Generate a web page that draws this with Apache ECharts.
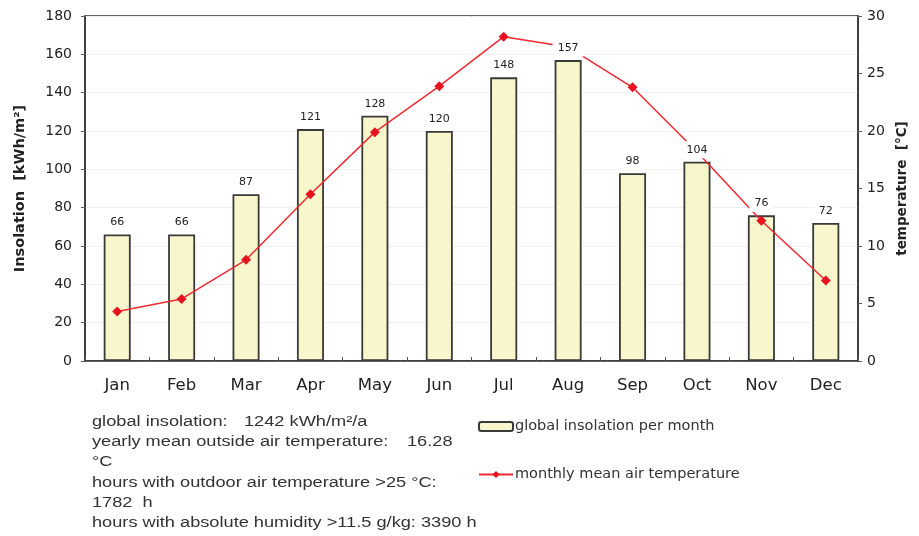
<!DOCTYPE html>
<html><head><meta charset="utf-8">
<script src="https://cdn.jsdelivr.net/npm/echarts@6/dist/echarts.min.js"></script>
<style>html,body{margin:0;padding:0;background:#fff}#c{width:919px;height:536px}</style>
</head><body><div id="c"></div>
<script>
const months = ['Jan','Feb','Mar','Apr','May','Jun','Jul','Aug','Sep','Oct','Nov','Dec'];
const insolation = [66, 66, 87, 121, 128, 120, 148, 157, 98, 104, 76, 72];
const temperature = [4.3, 5.4, 8.8, 14.5, 19.9, 23.9, 28.2, 27.3, 23.8, 18.2, 12.2, 7.0];
const leftTicks = [0, 180, 20];
const rightTicks = [0, 30, 5];
const infoLines = [
  ['global insolation:', '1242 kWh/m²/a'],
  ['yearly mean outside air temperature:', '16.28'],
  ['°C', ''],
  ['hours with outdoor air temperature >25 °C:', ''],
  ['1782  h', ''],
  ['hours with absolute humidity >11.5 g/kg: 3390 h', '']
];
const FONT = '"Liberation Sans", Arial, sans-serif';
const WIDE = '"DejaVu Sans", sans-serif';
const valueX = [244, 407];
const graphics = [];
infoLines.forEach((pair, i) => {
  graphics.push({type: 'text', left: 92, top: 415 + i * 20.3, scaleX: 1.3,
    style: {text: pair[0], font: '14px ' + FONT, fill: '#333'}});
  if (pair[1]) graphics.push({type: 'text', left: valueX[i], top: 415 + i * 20.3, scaleX: 1.3,
    style: {text: pair[1], font: '14px ' + FONT, fill: '#333'}});
});
const chart = echarts.init(document.getElementById('c'));
chart.setOption({
  animation: false,
  backgroundColor: '#fff',
  textStyle: {fontFamily: FONT},
  grid: {left: 85, right: 61, top: 16, bottom: 175, show: true, borderColor: '#333', borderWidth: 1.5,
    containLabel: false, outerBoundsMode: 'none'},
  legend: {
    orient: 'vertical', left: 473, top: 414, itemGap: 33, itemWidth: 34, itemHeight: 9,
    data: ['global insolation per month', 'monthly mean air temperature'],
    textStyle: {fontFamily: WIDE, fontSize: 14.5, color: '#333', padding: [0,0,0,-3]},
    selectedMode: false
  },
  xAxis: {
    type: 'category', data: months, boundaryGap: true,
    axisLine: {lineStyle: {color: '#333', width: 1.5}},
    axisTick: {show: true, inside: true, length: 4, lineStyle: {color: '#555'}},
    axisLabel: {fontFamily: WIDE, fontSize: 16.5, color: '#222', margin: 16}
  },
  yAxis: [{
    type: 'value', min: leftTicks[0], max: leftTicks[1], interval: leftTicks[2],
    name: 'Insolation  [kWh/m²]', nameLocation: 'middle', nameGap: 57, nameRotate: 90,
    nameTextStyle: {fontFamily: WIDE, fontSize: 14.5, fontWeight: 'bold', color: '#222'},
    axisLine: {show: true, lineStyle: {color: '#333', width: 1.5}},
    axisTick: {show: true, length: 4, lineStyle: {color: '#555'}},
    axisLabel: {fontFamily: WIDE, fontSize: 14, color: '#222', margin: 13},
    splitLine: {show: true, lineStyle: {color: '#f0f0f0', width: 1}}
  }, {
    type: 'value', min: rightTicks[0], max: rightTicks[1], interval: rightTicks[2],
    position: 'right',
    name: 'temperature  [°C]', nameLocation: 'middle', nameGap: 37, nameRotate: 90,
    nameTextStyle: {fontFamily: WIDE, fontSize: 13.5, fontWeight: 'bold', color: '#222'},
    axisLine: {show: true, lineStyle: {color: '#333', width: 1.5}},
    axisTick: {show: true, length: 4, lineStyle: {color: '#555'}},
    axisLabel: {fontFamily: WIDE, fontSize: 14, color: '#222', margin: 9},
    splitLine: {show: false}
  }],
  series: [{
    name: 'global insolation per month', type: 'bar', data: insolation, barWidth: 27,
    itemStyle: {color: '#f8f7cc', borderColor: '#3a3a3a', borderWidth: 1.8},
    z: 2, silent: true
  }, {
    name: 'monthly mean air temperature', type: 'line', yAxisIndex: 1, data: temperature,
    symbol: 'diamond', symbolSize: 10,
    lineStyle: {color: '#ee2a33', width: 1.5},
    itemStyle: {color: '#e8121f'},
    z: 3, silent: true
  }, {
    name: 'labels', type: 'scatter', data: insolation, zlevel: 1, z: 5, silent: true,
    symbol: 'rect',
    symbolSize: (v) => [String(v).length * 7 + 10, 17],
    symbolOffset: [0, -12],
    itemStyle: {color: '#ffffff', opacity: 1},
    label: {show: true, position: 'inside', fontFamily: WIDE, fontSize: 11, color: '#222'}
  }],
  graphic: graphics
});
</script></body></html>
